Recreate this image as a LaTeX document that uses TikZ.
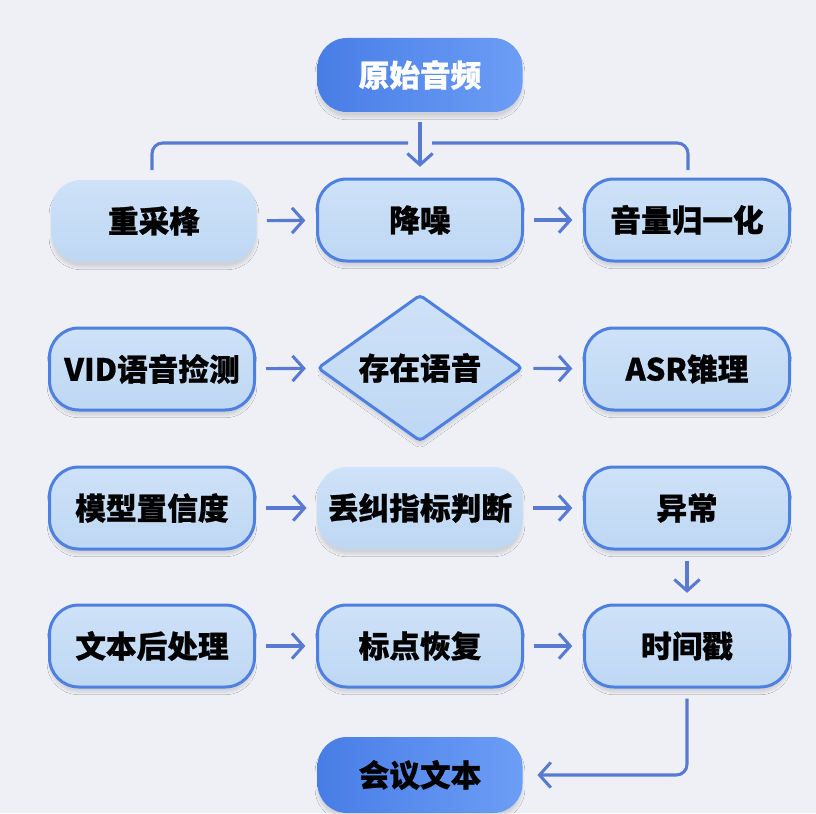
\documentclass[tikz,border=0pt]{standalone}
\usepackage{fontspec}
\newfontfamily\cjk[BoldFeatures={FakeBold=0.8}]{Noto Sans CJK SC}
\usetikzlibrary{shapes.geometric,arrows.meta,shadows.blur}
\definecolor{bg}{RGB}{238,240,245}
\definecolor{boxfill}{RGB}{206,226,248}
\definecolor{boxfillb}{RGB}{190,215,243}
\definecolor{edge}{RGB}{78,128,226}
\definecolor{arrowc}{RGB}{88,122,210}
\definecolor{darkl}{RGB}{72,125,230}
\definecolor{darkr}{RGB}{108,158,246}
\begin{document}
\begin{tikzpicture}[x=0.75pt,y=-0.75pt,
 shad/.style={blur shadow={shadow xshift=0pt, shadow yshift=-4pt, shadow blur steps=8, shadow opacity=12}},
 base/.style={shad, rounded corners=22pt, minimum width=153.75pt, minimum height=61.5pt, inner sep=0pt, font=\cjk\bfseries\fontsize{23}{27}\selectfont, text=black},
 box/.style={base, draw=edge, line width=2.25pt, top color=boxfill, bottom color=boxfillb},
 softbox/.style={base, top color=boxfill, bottom color=boxfillb},
 term/.style={base, left color=darkl, right color=darkr},
 decision/.style={shad, diamond, aspect=1.4, draw=edge, line width=2.25pt, top color=boxfill, bottom color=boxfillb, minimum width=153.75pt, minimum height=110pt, inner sep=0pt, rounded corners=3pt, font=\cjk\bfseries\fontsize{23}{27}\selectfont, text=black},
 flow/.style={draw=arrowc, line width=2.3pt, -{Straight Barb[length=8.5pt,width=19pt,line width=2.3pt]}, shorten <=7.5pt, shorten >=8pt},
 link/.style={draw=arrowc, line width=2.3pt, rounded corners=8pt}]
\fill[bg] (0,0) rectangle (816,813);
\useasboundingbox (0,0) rectangle (816,813);

\node[term, text=white, minimum height=55.5pt] (src) at (420,75) {原始音频};

\node[softbox] (resample) at (154,221) {重采桻};
\node[box] (denoise) at (420,220) {降噪};
\node[box] (volnorm) at (687,220) {音量归一化};

\node[box] (vid) at (152,369) {VID语音捡测};
\node[decision] (speech) at (420,368) {存在语音};
\node[box] (asr) at (687,369) {ASR锥理};

\node[box] (conf) at (152,508) {模型置信度};
\node[softbox] (judge) at (420,508) {丢纠指标判断};
\node[box] (abn) at (687,508) {异常};

\node[box] (post) at (152,646) {文本后处理};
\node[box] (punct) at (420,646) {标点恢复};
\node[box] (ts) at (687,646) {时间戳};

\node[term, minimum height=57pt] (out) at (420,775) {会议文本};

% bracket under the source
\coordinate (bl) at (152,170);
\coordinate (br) at (688,170);
\coordinate (gl) at (408,143);
\coordinate (gr) at (432,143);
\draw[link] (bl) |- (gl);
\draw[link] (gr) -| (br);
\draw[flow] (src) -- (denoise);

\draw[flow] (resample) -- (denoise);
\draw[flow] (denoise) -- (volnorm);
\draw[flow] (vid) -- (speech);
\draw[flow] (speech) -- (asr);
\draw[flow] (conf) -- (judge);
\draw[flow] (judge) -- (abn);
\draw[flow] (post) -- (punct);
\draw[flow] (punct) -- (ts);
\draw[flow] (abn) -- (ts);
\draw[flow, rounded corners=8pt, shorten >=11pt] (ts.south) |- (out.east);
\end{tikzpicture}
\end{document}
